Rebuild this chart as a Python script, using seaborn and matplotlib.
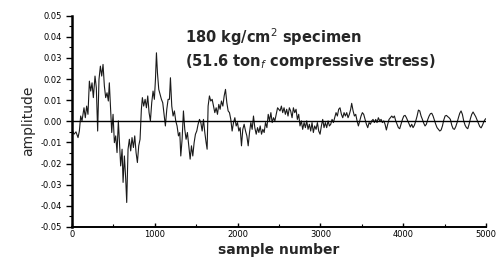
import numpy as np
import pandas as pd
import matplotlib
matplotlib.use("Agg")
import matplotlib.pyplot as plt
import seaborn as sns
from matplotlib.ticker import MultipleLocator, FuncFormatter

sns.set_theme(style="ticks")
plt.rcParams['font.family'] = ['DejaVu Sans']

# waveform (sample number, amplitude)
samples = [
    0, 24, 48, 73, 89, 105, 121, 145, 161, 177, 193, 210, 226, 242, 258, 278, 294, 310, 326, 343,
    359, 375, 391, 407, 423, 439, 451, 467, 480, 496, 512, 528, 544, 560, 576, 588, 605, 617, 633, 649,
    661, 677, 693, 709, 725, 742, 758, 774, 790, 806, 822, 838, 850, 866, 883, 899, 915, 931, 947, 963,
    979, 995, 1008, 1020, 1032, 1048, 1064, 1080, 1096, 1112, 1128, 1145, 1161, 1177, 1189, 1205, 1221, 1237, 1253, 1269,
    1286, 1302, 1314, 1330, 1346, 1362, 1378, 1394, 1411, 1427, 1443, 1459, 1475, 1491, 1507, 1523, 1540, 1556, 1572, 1588,
    1604, 1620, 1632, 1644, 1660, 1676, 1693, 1709, 1725, 1741, 1757, 1773, 1789, 1805, 1822, 1838, 1854, 1870, 1886, 1902,
    1918, 1934, 1951, 1967, 1983, 1999, 2015, 2031, 2047, 2063, 2079, 2096, 2112, 2128, 2144, 2160, 2176, 2192, 2208, 2225,
    2241, 2257, 2273, 2289, 2305, 2321, 2337, 2354, 2370, 2386, 2402, 2418, 2434, 2450, 2466, 2483, 2513, 2529, 2545, 2561,
    2577, 2593, 2609, 2625, 2641, 2658, 2674, 2690, 2706, 2722, 2738, 2754, 2770, 2786, 2803, 2819, 2835, 2851, 2867, 2883,
    2899, 2915, 2931, 2948, 2964, 2980, 2996, 3012, 3028, 3044, 3060, 3076, 3093, 3109, 3125, 3141, 3157, 3173, 3189, 3205,
    3221, 3237, 3254, 3270, 3286, 3302, 3318, 3334, 3350, 3366, 3378, 3395, 3411, 3427, 3443, 3459, 3475, 3491, 3507, 3523,
    3540, 3556, 3572, 3588, 3604, 3620, 3636, 3652, 3668, 3684, 3700, 3717, 3733, 3749, 3765, 3781, 3797, 3813, 3829, 3845,
    3862, 3878, 3894, 3910, 3926, 3942, 3958, 3974, 3991, 4007, 4023, 4039, 4055, 4071, 4087, 4103, 4119, 4135, 4152, 4168,
    4184, 4200, 4216, 4232, 4248, 4264, 4280, 4297, 4313, 4329, 4345, 4361, 4377, 4393, 4409, 4425, 4442, 4458, 4474, 4490,
    4506, 4522, 4538, 4554, 4570, 4587, 4603, 4619, 4635, 4651, 4667, 4683, 4699, 4715, 4731, 4748, 4764, 4780, 4796, 4812,
    4828, 4844, 4860, 4876, 4893, 4909, 4925, 4941, 4957, 4973, 4989, 5000,
]
amplitude = [
    -0.0038, -0.0061, -0.0050, -0.0077, -0.0046, 0.0025, 0.0002, 0.0064, 0.0017, 0.0072,
    0.0033, 0.0190, 0.0143, 0.0182, 0.0112, 0.0214, 0.0159, -0.0046, 0.0198, 0.0261,
    0.0214, 0.0269, 0.0167, 0.0112, 0.0135, 0.0096, 0.0182, 0.0057, -0.0053, 0.0033,
    -0.0101, -0.0069, -0.0148, 0.0002, -0.0116, -0.0211, -0.0132, -0.0289, -0.0164, -0.0274,
    -0.0384, -0.0132, -0.0085, -0.0140, -0.0077, -0.0124, -0.0069, -0.0148, -0.0195, -0.0116,
    -0.0085, 0.0057, 0.0112, 0.0072, 0.0104, 0.0064, 0.0120, 0.0041, 0.0002, 0.0088,
    0.0143, 0.0104, 0.0198, 0.0324, 0.0230, 0.0151, 0.0127, 0.0104, 0.0088, 0.0033,
    -0.0022, 0.0057, 0.0104, 0.0104, 0.0206, 0.0072, 0.0025, 0.0049, 0.0002, -0.0022,
    -0.0069, -0.0053, -0.0164, -0.0085, 0.0049, -0.0038, -0.0085, -0.0053, -0.0116, -0.0179,
    -0.0116, -0.0164, -0.0101, -0.0061, -0.0046, -0.0014, 0.0009, -0.0006, -0.0046, 0.0009,
    -0.0053, -0.0101, -0.0132, 0.0072, 0.0120, 0.0096, 0.0104, 0.0072, 0.0041, 0.0064,
    0.0033, 0.0080, 0.0057, 0.0096, 0.0072, 0.0120, 0.0151, 0.0088, 0.0049, 0.0041,
    0.0009, -0.0046, -0.0006, 0.0017, -0.0022, -0.0006, -0.0046, -0.0030, -0.0116, -0.0038,
    -0.0014, -0.0046, -0.0069, -0.0116, -0.0053, -0.0006, -0.0038, 0.0025, -0.0030, -0.0061,
    -0.0030, -0.0053, -0.0022, -0.0061, -0.0038, -0.0053, -0.0006, -0.0030, 0.0033, 0.0002,
    0.0041, -0.0006, 0.0017, 0.0002, 0.0033, 0.0064, 0.0049, 0.0072, 0.0041, 0.0064,
    0.0033, 0.0057, 0.0025, 0.0064, 0.0049, 0.0017, 0.0064, 0.0041, 0.0057, 0.0009,
    0.0033, -0.0022, 0.0002, -0.0038, -0.0006, -0.0030, 0.0002, -0.0038, -0.0014, -0.0046,
    -0.0006, -0.0053, -0.0022, -0.0038, -0.0006, -0.0046, -0.0061, -0.0022, 0.0009, -0.0030,
    -0.0006, -0.0030, 0.0002, -0.0022, -0.0014, 0.0009, -0.0006, 0.0017, 0.0041, 0.0025,
    0.0057, 0.0064, 0.0033, 0.0017, 0.0041, 0.0025, 0.0041, 0.0017, 0.0033, 0.0057,
    0.0085, 0.0049, 0.0025, 0.0033, 0.0002, -0.0022, 0.0002, 0.0025, 0.0041, 0.0033,
    0.0009, -0.0014, -0.0030, -0.0006, -0.0014, 0.0002, 0.0009, -0.0006, 0.0009, -0.0006,
    0.0017, 0.0002, 0.0009, -0.0006, 0.0002, -0.0014, -0.0041, -0.0014, 0.0009, 0.0017,
    0.0025, 0.0017, 0.0025, 0.0002, -0.0014, -0.0030, -0.0035, -0.0014, 0.0009, 0.0025,
    0.0028, 0.0017, 0.0002, -0.0014, -0.0027, -0.0014, -0.0030, -0.0019, 0.0002, 0.0025,
    0.0053, 0.0049, 0.0025, 0.0009, -0.0009, -0.0022, -0.0014, 0.0009, 0.0025, 0.0036,
    0.0038, 0.0025, 0.0006, -0.0014, -0.0030, -0.0038, -0.0046, -0.0041, -0.0022, 0.0006,
    0.0025, 0.0028, 0.0022, 0.0017, 0.0009, -0.0019, -0.0035, -0.0038, -0.0025, -0.0006,
    0.0017, 0.0038, 0.0049, 0.0033, 0.0002, -0.0019, -0.0030, -0.0035, -0.0014, 0.0013,
    0.0033, 0.0044, 0.0033, 0.0022, 0.0006, -0.0009, -0.0025, -0.0031, -0.0019, -0.0003,
    0.0009, 0.0013,
]

x_ticks = [0, 1000, 2000, 3000, 4000, 5000]
y_ticks = [-0.05, -0.04, -0.03, -0.02, -0.01, 0.00, 0.01, 0.02, 0.03, 0.04, 0.05]

df = pd.DataFrame({'sample': samples, 'amplitude': amplitude})

fig = plt.figure(figsize=(5.02, 2.65), dpi=100)
ax = fig.add_axes([0.1434, 0.1434, 0.8247, 0.7977])

sns.lineplot(data=df, x='sample', y='amplitude', ax=ax, color='#1a1a1a',
             linewidth=0.8, estimator=None, sort=False)
ax.axhline(0, color='black', linewidth=1.0, zorder=3)

ax.set_xlim(0, 5000)
ax.set_ylim(-0.05, 0.05)
ax.set_xticks(x_ticks)
ax.set_yticks(y_ticks)
ax.xaxis.set_minor_locator(MultipleLocator(500))
ax.yaxis.set_minor_locator(MultipleLocator(0.005))
ax.yaxis.set_major_formatter(FuncFormatter(lambda v, p: f"{v:.2f}"))

for s in ['top', 'right']:
    ax.spines[s].set_visible(False)
ax.spines['left'].set_linewidth(1.8)
ax.spines['bottom'].set_linewidth(1.4)
ax.spines['left'].set_color('black')
ax.spines['bottom'].set_color('black')

ax.tick_params(axis='y', which='major', direction='out', length=4, width=1, labelsize=6, pad=3, colors='black')
ax.tick_params(axis='y', which='minor', direction='out', length=2, width=0.8, colors='black')
ax.tick_params(axis='x', which='major', direction='in', length=3, width=1, labelsize=6, pad=2, colors='black')
ax.tick_params(axis='x', which='minor', direction='in', length=2, width=0.8, colors='black')

ax.set_xlabel('sample number', fontsize=10, fontweight='bold', labelpad=3)
ax.set_ylabel('amplitude', fontsize=10, labelpad=4)
ax.grid(False)

ax.text(1365, 0.040, '180 kg/cm$^2$ specimen', fontsize=10.5, fontweight='bold', ha='left', va='center')
ax.text(1365, 0.0283, '(51.6 ton$_f$ compressive stress)', fontsize=10.5, fontweight='bold', ha='left', va='center')

fig.savefig('out.png', dpi=100)
plt.close(fig)
